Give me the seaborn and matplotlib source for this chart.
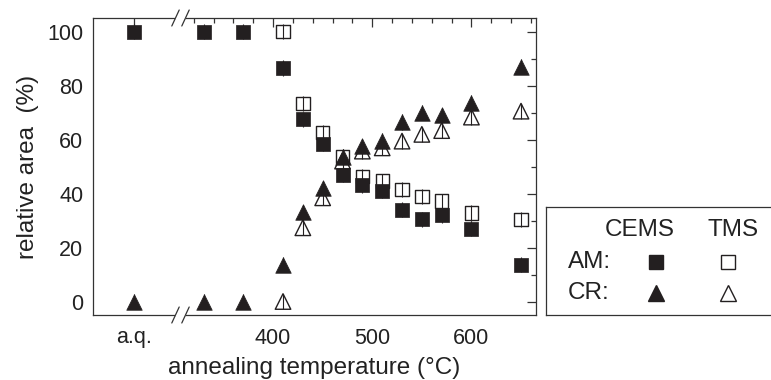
import numpy as np
import pandas as pd
import seaborn as sns
import matplotlib
matplotlib.use("Agg")
import matplotlib.pyplot as plt
from matplotlib.lines import Line2D

# ---------------- data ----------------
AQ = 260  # position used for the "a.q." (as-quenched) sample on the broken axis
cems_temp = [AQ, 330, 370, 410, 430, 450, 470, 490, 510, 530, 550, 570, 600, 650]
cems_am = [100, 100, 100, 86.5, 67.5, 58.5, 47, 43, 41, 34, 30.5, 32, 27, 13.7]
cems_cr = [0, 0, 0, 13.7, 33, 42, 53.5, 57.5, 59.5, 66.5, 70, 69, 73.5, 87]

tms_temp = [410, 430, 450, 470, 490, 510, 530, 550, 570, 600, 650]
tms_am = [100, 73.3, 62.5, 53.8, 46.2, 44.6, 41.5, 38.8, 37.2, 32.8, 30.4]
tms_cr = [0, 27.3, 38.4, 52, 55.7, 56.9, 59.4, 61.9, 63.3, 68.3, 70.5]
err = 2.8

x_major = [AQ, 400, 500, 600]
x_major_labels = ["a.q.", "400", "500", "600"]
x_minor = [320, 340, 360, 380, 420, 440, 460, 480, 520, 540, 560, 580, 620, 640, 660]
y_major = [0, 20, 40, 60, 80, 100]
y_minor = [10, 30, 50, 70, 90]

# ---------------- style ----------------
sns.set_theme(style="white")
plt.rcParams["font.family"] = ["Liberation Sans", "DejaVu Sans"]
INK = "#231f20"
AX_C = "#333333"

fig = plt.figure(figsize=(7.71, 3.80), dpi=100)
ax = fig.add_axes([93 / 771, 65 / 380, 443 / 771, 297 / 380])

df_c = pd.DataFrame({"T": cems_temp, "AM": cems_am, "CR": cems_cr})
df_t = pd.DataFrame({"T": tms_temp, "AM": tms_am, "CR": tms_cr})

# error bars (thin vertical lines through the markers)
for d in (df_c, df_t):
    for col in ("AM", "CR"):
        ax.errorbar(d["T"], d[col], yerr=err, fmt="none", ecolor=INK,
                    elinewidth=0.8, capsize=0, zorder=2)

sns.scatterplot(data=df_t, x="T", y="AM", marker="s", s=92, facecolor="none",
                edgecolor=INK, linewidth=1.0, ax=ax, zorder=3)
sns.scatterplot(data=df_t, x="T", y="CR", marker="^", s=125, facecolor="none",
                edgecolor=INK, linewidth=1.0, ax=ax, zorder=3)
sns.scatterplot(data=df_c, x="T", y="AM", marker="s", s=100, color=INK,
                edgecolor=INK, linewidth=0.5, ax=ax, zorder=4)
sns.scatterplot(data=df_c, x="T", y="CR", marker="^", s=125, color=INK,
                edgecolor=INK, linewidth=0.5, ax=ax, zorder=4)

ax.set_xlim(218.4, 665.1)
ax.set_ylim(-5, 105)
ax.set_xticks(x_major)
ax.set_xticklabels(x_major_labels)
ax.set_xticks(x_minor, minor=True)
ax.set_yticks(y_major)
ax.set_yticks(y_minor, minor=True)
ax.tick_params(which="both", direction="in", top=True, right=True,
               color=AX_C, width=0.9, labelsize=15.5, labelcolor="#222222")
ax.tick_params(which="major", length=6.5)
ax.tick_params(which="minor", length=3.5)
ax.tick_params(axis="x", which="major", pad=9)
ax.tick_params(axis="y", which="major", pad=7)
for sp in ax.spines.values():
    sp.set_color(AX_C)
    sp.set_linewidth(0.9)

ax.set_xlabel("annealing temperature (°C)", fontsize=17.5, color="#222222", labelpad=6)
ax.set_ylabel("relative area  (%)", fontsize=17.5, color="#222222", labelpad=6)

# axis break marks "//"
W = 443.0
H = 297.0
for yb in (0.0, 1.0):
    x0 = (177 - 93) / W
    x1 = (184 - 93) / W
    ax.add_line(Line2D([x0, x1], [yb, yb], transform=ax.transAxes, color="white",
                       lw=3, clip_on=False, zorder=5))
    for xc in (175.5, 185.5):
        xa = (xc - 93) / W
        ax.add_line(Line2D([xa - 3.7 / W, xa + 3.7 / W], [yb - 8 / H, yb + 8 / H],
                           transform=ax.transAxes, color=AX_C, lw=0.9,
                           clip_on=False, zorder=6))

# custom legend box
lax = fig.add_axes([546 / 771, 65 / 380, 229 / 771, 108 / 380])
lax.set_xlim(0, 1)
lax.set_ylim(0, 1)
lax.set_xticks([])
lax.set_yticks([])
lax.patch.set_alpha(0)
for k, sp in lax.spines.items():
    sp.set_color(AX_C)
    sp.set_linewidth(0.9)
lax.spines["right"].set_visible(False)

tc = "#222222"
lax.text(0.41, 0.787, "CEMS", ha="center", va="center", fontsize=17.5, color=tc)
lax.text(0.817, 0.787, "TMS", ha="center", va="center", fontsize=17.5, color=tc)
lax.text(0.096, 0.49, "AM:", ha="left", va="center", fontsize=17.5, color=tc)
lax.text(0.096, 0.204, "CR:", ha="left", va="center", fontsize=17.5, color=tc)
lax.plot([0.48], [0.49], marker="s", ms=10, color=INK, ls="none")
lax.plot([0.794], [0.49], marker="s", ms=9.5, mfc="white", mec=INK, mew=1.0, ls="none")
lax.plot([0.48], [0.204], marker="^", ms=11, color=INK, ls="none")
lax.plot([0.794], [0.204], marker="^", ms=11, mfc="white", mec=INK, mew=1.0, ls="none")

fig.savefig("out.png", dpi=100)
